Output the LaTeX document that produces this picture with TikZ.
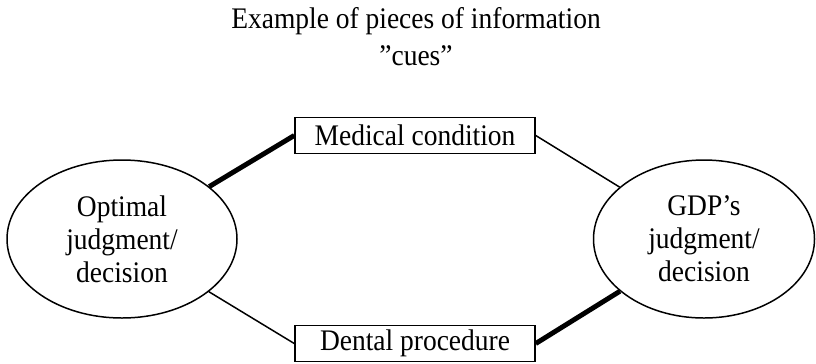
\documentclass[tikz,border=0pt]{standalone}
\usepackage{fontspec}
\setmainfont{Liberation Serif}[FakeStretch=0.92]
\usepackage{tikz}
\usetikzlibrary{shapes.geometric, positioning}

\begin{document}
\begin{tikzpicture}[
    cue/.style={rectangle, draw, line width=0.85pt, minimum width=4.8cm, minimum height=0.72cm, inner sep=0pt, font=\fontsize{17}{18.8}\selectfont},
    judge/.style={ellipse, draw, line width=0.85pt, minimum width=4.6cm, minimum height=3.16cm, inner sep=0pt, align=center, font=\fontsize{17}{18.8}\selectfont},
    weak/.style={line width=0.85pt},
    strong/.style={line width=2.8pt}
]
    \useasboundingbox (0,0) rectangle (16.32,7.26);
    \node[align=center, font=\fontsize{17}{20.9}\selectfont] (title) at (8.32,6.53) {Example of pieces of information\\''cues''};
    \node[judge] (opt) at (2.44,2.48) {Optimal\\judgment/\\decision};
    \node[judge, minimum width=4.42cm, right=7.10cm of opt] (gdp) {GDP's\\judgment/\\decision};
    \node[cue] (med) at (8.30,4.55) {Medical condition};
    \node[cue] (dent) at (8.30,0.39) {Dental procedure};

    \draw[strong] (med.west) -- (opt);
    \draw[weak] (med.east) -- (gdp);
    \draw[weak] (dent.west) -- (opt);
    \draw[strong] (dent.east) -- (gdp);
\end{tikzpicture}
\end{document}
